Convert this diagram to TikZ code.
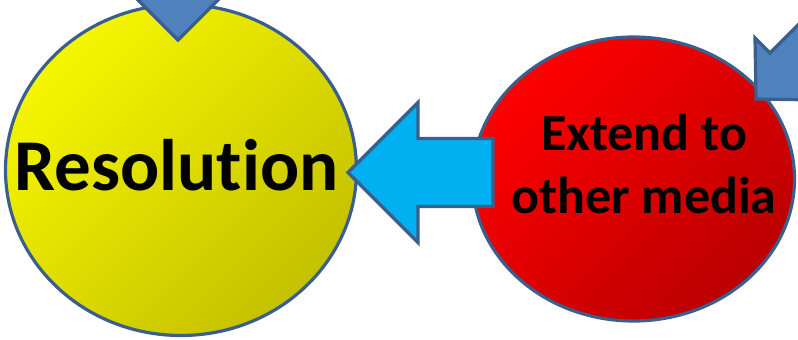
\documentclass[tikz,border=0pt]{standalone}
\usepackage{fontspec}
\setmainfont{Carlito}[Ligatures={NoCommon}]
\usetikzlibrary{shapes.geometric}
\definecolor{edgeblue}{HTML}{3A5F8E}
\definecolor{arrowblue}{HTML}{4F81BD}
\definecolor{cyanfill}{HTML}{00B0F0}
\definecolor{ylight}{HTML}{F6F600}
\definecolor{ydark}{HTML}{C4C100}
\definecolor{rlight}{HTML}{FF0000}
\definecolor{rdark}{HTML}{BA0000}
\begin{document}
\begin{tikzpicture}[x=1pt,y=-1pt,
  ball/.style={ellipse, draw=edgeblue, line width=3.2pt, inner sep=0pt},
  blockarrow/.style={draw=edgeblue, line width=3.2pt, line join=miter},
  bigtext/.style={font=\fontsize{73}{80}\selectfont\bfseries, text=black, anchor=base, inner sep=0pt},
  midtext/.style={font=\fontsize{52}{63}\selectfont\bfseries, text=black, anchor=base, inner sep=0pt, align=center}]
\useasboundingbox (0,0) rectangle (798,340);
\clip (0,0) rectangle (798,340);
% circles
\node[ball, top color=ylight, bottom color=ydark, shading angle=45, minimum width=351pt, minimum height=331pt] (res) at (181,170) {};
\node[ball, top color=rlight, bottom color=rdark, shading angle=45, minimum width=322pt, minimum height=284pt] (ext) at (633.5,179) {};
% top arrow pointing into Resolution
\coordinate (toptip) at (178,40);
\draw[blockarrow, fill=arrowblue] (toptip) -- ++(-65,-65) -- ++(33,0) -- ++(0,-40) -- ++(64,0) -- ++(0,40) -- ++(33,0) -- cycle;
% top-right arrow pointing into Extend
\coordinate (trtip) at (756,99);
\draw[blockarrow, fill=arrowblue] (trtip) -- (755,38) -- (770,53) -- (841,-18) -- (873,14) -- (802,85) -- (817,100) -- cycle;
% cyan arrow from Extend to Resolution
\coordinate (ctip) at (348,172.5);
\draw[blockarrow, fill=cyanfill] (ctip) -- ++(70,-70) -- ++(0,36) -- ++(75,0) -- ++(0,68) -- ++(-75,0) -- ++(0,36) -- cycle;
% texts
\node[bigtext] (restext) at (176.5,190) {Resolution};
\node[midtext] (exttext) at (644,213) {Extend to\\other media};
\end{tikzpicture}
\end{document}
